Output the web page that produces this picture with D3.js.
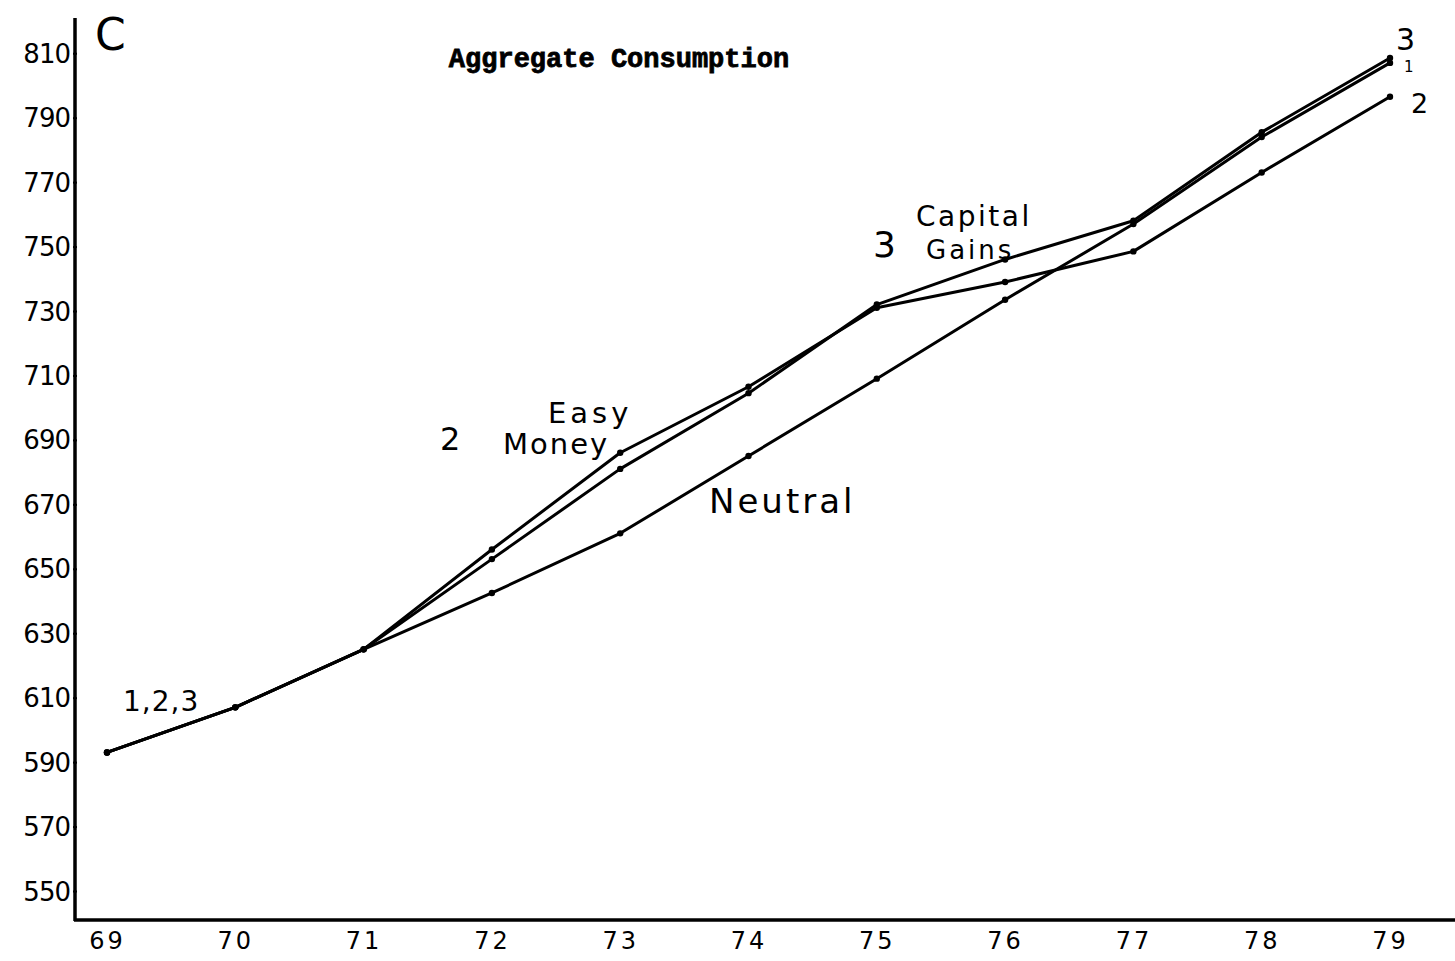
<!DOCTYPE html>
<html>
<head>
<meta charset="utf-8">
<script src="https://cdn.jsdelivr.net/npm/d3@7"></script>
<style>
  html, body { margin: 0; padding: 0; background: #fff; }
  svg { display: block; }
  .hand { font-family: "DejaVu Sans", "Liberation Sans", sans-serif; fill: #000; }
</style>
</head>
<body>
<svg id="chart" width="1455" height="961"></svg>
<script>
// ---- data ----
const years = [69, 70, 71, 72, 73, 74, 75, 76, 77, 78, 79];
const yearLabels = ["69", "70", "71", "72", "73", "74", "75", "76", "77", "78", "79"];
const neutral      = [593, 607, 625, 642.5, 661, 685, 709, 733.5, 757, 784, 807];
const easyMoney    = [593, 607, 625, 656, 686, 706.5, 731, 739, 748.5, 773, 796.5];
const capitalGains = [593, 607, 625, 653, 681, 704.5, 732, 746, 758, 785.5, 808.5];
const yTicks = [550, 570, 590, 610, 630, 650, 670, 690, 710, 730, 750, 770, 790, 810];
const title = "Aggregate Consumption";

const svg = d3.select("#chart");

const x = d3.scaleLinear().domain([69, 79]).range([107, 1390]);
const y = d3.scaleLinear().domain([541, 820]).range([920, 21]);

// axes lines
svg.append("line").attr("x1", 75).attr("x2", 75).attr("y1", 18).attr("y2", 921)
  .attr("stroke", "#000").attr("stroke-width", 3.5);
svg.append("line").attr("x1", 74).attr("x2", 1455).attr("y1", 920).attr("y2", 920)
  .attr("stroke", "#000").attr("stroke-width", 3.5);

// y axis ticks + labels
const yAxis = d3.axisLeft(y).tickValues(yTicks).tickSize(4).tickPadding(6);
const gy = svg.append("g").attr("transform", "translate(77,0)").call(yAxis);
gy.select(".domain").remove();
gy.selectAll(".tick line").attr("stroke", "#000").attr("stroke-width", 2);
gy.selectAll(".tick text")
  .attr("class", "hand")
  .attr("font-size", 26)
  .attr("letter-spacing", "-1")
  .attr("dy", "0.35em")
  .attr("x", -7);

// x axis labels
const xAxis = d3.axisBottom(x).tickValues(years).tickFormat((d, i) => yearLabels[i]).tickSize(0).tickPadding(12);
const gx = svg.append("g").attr("transform", "translate(0,920)").call(xAxis);
gx.select(".domain").remove();
gx.selectAll(".tick text").attr("class", "hand").attr("font-size", 24).attr("letter-spacing", "3");

// lines
const series = [neutral, easyMoney, capitalGains];
const line = d3.line().x((d, i) => x(years[i])).y(d => y(d));
series.forEach(s => {
  svg.append("path").datum(s).attr("d", line)
    .attr("fill", "none").attr("stroke", "#000").attr("stroke-width", 3)
    .attr("stroke-linejoin", "round").attr("stroke-linecap", "round");
  svg.append("g").selectAll("circle").data(s).join("circle")
    .attr("cx", (d, i) => x(years[i])).attr("cy", d => y(d)).attr("r", 3.2)
    .attr("fill", "#000");
});

// title
svg.append("text").attr("x", 619).attr("y", 67).attr("text-anchor", "middle")
  .attr("font-family", "'Liberation Mono', 'DejaVu Sans Mono', monospace")
  .attr("font-weight", "bold").attr("font-size", 27).attr("fill", "#000")
  .attr("stroke", "#000").attr("stroke-width", 0.8)
  .text(title);

// handwritten annotations
function note(t, px, py, size, ls) {
  svg.append("text").attr("class", "hand").attr("x", px).attr("y", py)
    .attr("font-size", size).attr("letter-spacing", ls || 0).text(t);
}
note("C", 95, 50, 44);
note("1,2,3", 123, 711, 28, 1);
note("2", 440, 450, 32);
note("Easy", 548, 423, 29, 4);
note("Money", 503, 454, 29, 2);
note("Neutral", 709, 513, 34, 3);
note("3", 873, 257, 36);
note("Capital", 916, 226, 28, 2.5);
note("Gains", 926, 259, 26, 3);
note("3", 1396, 50, 30);
note("1", 1404, 72, 15);
note("2", 1411, 113, 27);
</script>
</body>
</html>
